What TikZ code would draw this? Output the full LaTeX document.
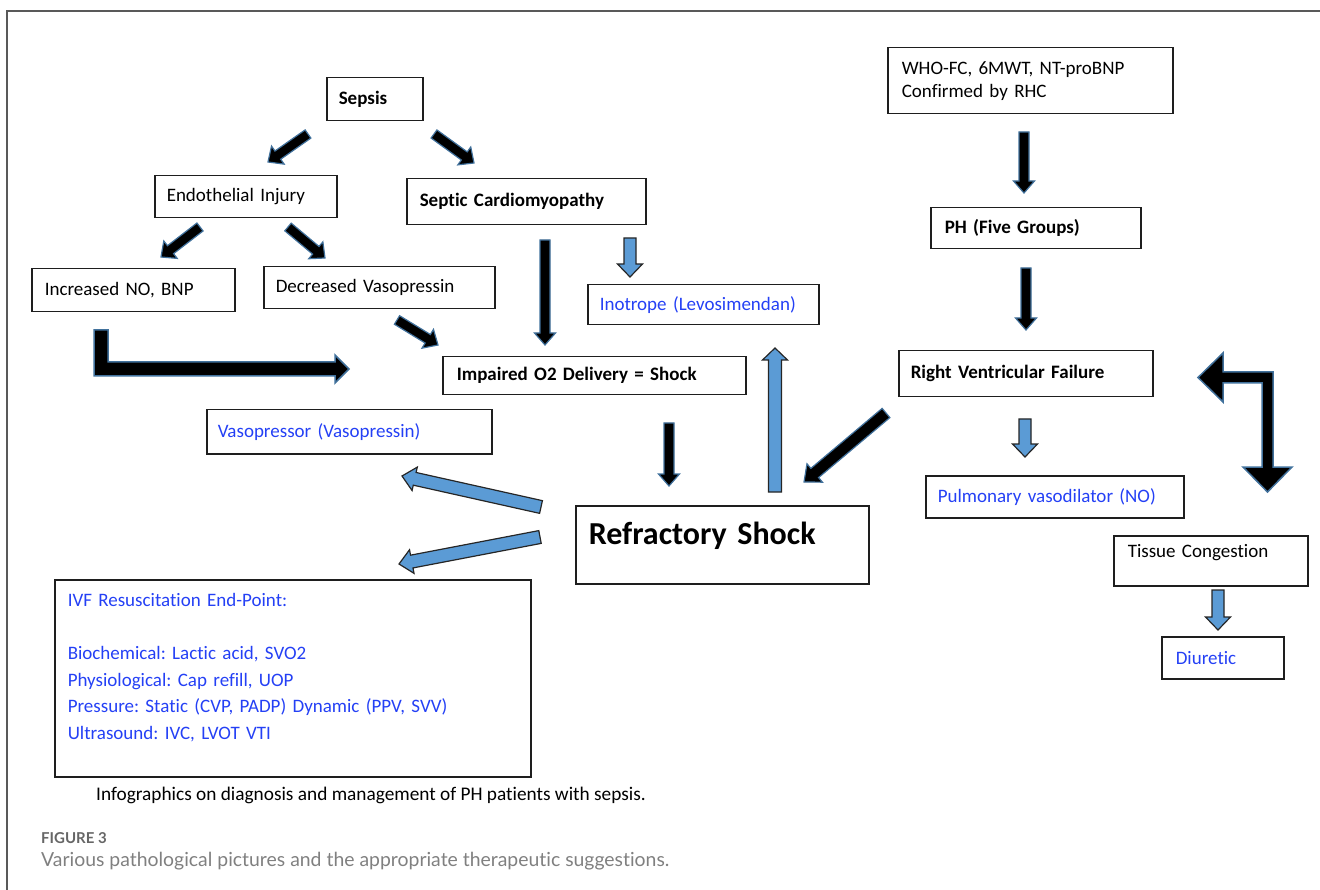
\documentclass[tikz,border=0pt]{standalone}
\usepackage{fontspec}
\setmainfont{Carlito}[Ligatures=NoCommon]
\newfontfamily\capfont{Lato}[Ligatures=NoCommon]
\usepackage{xcolor}
\usetikzlibrary{calc}
\definecolor{txtblue}{RGB}{36,64,245}
\definecolor{arrblue}{RGB}{91,155,213}
\definecolor{arredge}{RGB}{65,113,156}
\definecolor{boxline}{RGB}{30,30,30}
\frenchspacing
% block arrow: style, tail, tip, half shaft, half head, head length
\newcommand{\blockarrow}[6]{%
	\coordinate (bahead) at ($(#3)!#6!(#2)$);
	\draw[#1] ($(#2)!#4!90:(#3)$) -- ($(bahead)!#4!90:(#3)$) -- ($(bahead)!#5!90:(#3)$) -- (#3)
		-- ($(bahead)!#5!-90:(#3)$) -- ($(bahead)!#4!-90:(#3)$) -- ($(#2)!#4!-90:(#3)$) -- cycle;}

\begin{document}
\begin{tikzpicture}[x=1pt, y=-1pt,
	box/.style={draw=boxline, line width=1.5pt, anchor=north west, inner ysep=0pt, inner xsep=12pt, align=left, font=\fontsize{19}{23}\selectfont},
	hbox/.style={box, font=\fontsize{19}{23}\selectfont\bfseries},
	tbox/.style={box, text=txtblue},
	blackarr/.style={fill=black, draw=arredge, line width=1.2pt, line join=miter},
	bluearr/.style={fill=arrblue, draw=black!85, line width=1.2pt, line join=miter}]
			\useasboundingbox (0,0) rectangle (1320,890);
			\draw[black!65, line width=1.4pt] (7,890) -- (7,11) -- (1320,11);
			
			%coordinates
			\coordinate (SepEnT) at (308,134);   \coordinate (SepEnH) at (268,162);
			\coordinate (SepCaT) at (434,134);   \coordinate (SepCaH) at (474,163);
			\coordinate (EnInT)  at (200,227);   \coordinate (EnInH)  at (161,257);
			\coordinate (EnDeT)  at (288,227);   \coordinate (EnDeH)  at (325,258);
			\coordinate (DeImT)  at (397,320);   \coordinate (DeImH)  at (438,345);
			\coordinate (CaImT)  at (545,240);   \coordinate (CaImH)  at (545,345);
			\coordinate (CaInT)  at (630,238);   \coordinate (CaInH)  at (630,277);
			\coordinate (ImReT)  at (669,423);   \coordinate (ImReH)  at (669,486);
			\coordinate (RvReT)  at (886,413);   \coordinate (RvReH)  at (804,482);
			\coordinate (WhPhT)  at (1024,132);  \coordinate (WhPhH)  at (1024,193);
			\coordinate (PhRvT)  at (1026,268);  \coordinate (PhRvH)  at (1026,330);
			\coordinate (ReInT)  at (775,492);   \coordinate (ReInH)  at (775,348);
			\coordinate (ReVaT)  at (541,507);   \coordinate (ReVaH)  at (402,476);
			\coordinate (ReIvT)  at (540,537);   \coordinate (ReIvH)  at (399,564);
			\coordinate (RvPuT)  at (1025,419);  \coordinate (RvPuH)  at (1025,457);
			\coordinate (TiDiT)  at (1218,590);  \coordinate (TiDiH)  at (1218,630);
			
			%nodes
			\node[hbox, text width=72pt, minimum height=43pt] (sepsis) at (326,77) {Sepsis};
			\node[box, text width=158pt, minimum height=42pt] (endo) at (154,175) {Endothelial Injury};
			\node[hbox, text width=213pt, minimum height=46pt, inner xsep=13pt] (septic) at (406,178) {Septic Cardiomyopathy};
			\node[box, text width=177pt, minimum height=43pt, inner xsep=13pt] (incr) at (31,268) {Increased NO, BNP};
			\node[box, text width=207pt, minimum height=42pt] (decr) at (263,266) {Decreased Vasopressin};
			\node[tbox, text width=207pt, minimum height=40pt] (inotr) at (587,284) {Inotrope (Levosimendan)};
			\node[hbox, text width=275pt, minimum height=38pt, inner xsep=14pt] (impair) at (442,356) {Impaired O2 Delivery = Shock};
			\node[tbox, text width=263pt, minimum height=44pt, inner xsep=11pt] (vaso) at (206,409) {Vasopressor (Vasopressin)};
			\node[hbox, text width=267pt, minimum height=78pt, inner xsep=13pt, text depth=22pt, font=\fontsize{32}{38}\selectfont\bfseries] (refr) at (575,505) {Refractory Shock};
			\node[tbox, text width=450pt, minimum height=197pt, inner xsep=13pt, text height=14pt, text depth=157pt, font=\fontsize{19}{26.5}\selectfont] (ivf) at (54,579) {IVF Resuscitation End-Point:\\[26.5pt]
				Biochemical: Lactic acid, SVO2\\
				Physiological: Cap refill, UOP\\
				Pressure: Static (CVP, PADP) Dynamic (PPV, SVV)\\
				Ultrasound: IVC, LVOT VTI};
			\node[box, text width=257pt, minimum height=66pt, inner xsep=14pt] (who) at (887,47) {WHO-FC, 6MWT, NT-proBNP\\Confirmed by RHC};
			\node[hbox, text width=182pt, minimum height=41pt, inner xsep=14pt] (ph) at (930,207) {PH (Five Groups)};
			\node[hbox, text width=230pt, minimum height=46pt] (rvf) at (898,350) {Right Ventricular Failure};
			\node[tbox, text width=234pt, minimum height=42pt] (pulm) at (925,475) {Pulmonary vasodilator (NO)};
			\node[box, text width=166pt, minimum height=50pt, inner xsep=14pt, text depth=20pt] (tissue) at (1113,535) {Tissue Congestion};
			\node[tbox, text width=94pt, minimum height=42pt, inner xsep=14pt] (diur) at (1161,636) {Diuretic};
			
			\node[anchor=west, inner sep=0pt, text=black, font=\fontsize{19.3}{23}\selectfont] (infog) at (96,795) {Infographics on diagnosis and management of PH patients with sepsis.};
			\node[anchor=west, inner sep=0pt, text=black!60, font=\capfont\fontsize{15}{18}\selectfont\bfseries] (figno) at (41,838) {FIGURE 3};
			\node[anchor=west, inner sep=0pt, text=black!50, font=\capfont\fontsize{19.4}{23}\selectfont] (figcap) at (41,861) {Various pathological pictures and the appropriate therapeutic suggestions.};
			
			%arrows
			\blockarrow{blackarr}{SepEnT}{SepEnH}{5pt}{11pt}{12pt}
			\blockarrow{blackarr}{SepCaT}{SepCaH}{5pt}{11pt}{12pt}
			\blockarrow{blackarr}{EnInT}{EnInH}{5pt}{11pt}{12pt}
			\blockarrow{blackarr}{EnDeT}{EnDeH}{5pt}{11pt}{12pt}
			\blockarrow{blackarr}{DeImT}{DeImH}{5pt}{11pt}{12pt}
			\blockarrow{blackarr}{CaImT}{CaImH}{5pt}{10.5pt}{12pt}
			\blockarrow{blackarr}{ImReT}{ImReH}{5pt}{10.5pt}{12pt}
			\blockarrow{blackarr}{WhPhT}{WhPhH}{5pt}{10.5pt}{12pt}
			\blockarrow{blackarr}{PhRvT}{PhRvH}{5pt}{10.5pt}{12pt}
			\blockarrow{blackarr}{RvReT}{RvReH}{6pt}{12pt}{14pt}
			\blockarrow{bluearr}{CaInT}{CaInH}{6pt}{12.5pt}{13pt}
			\blockarrow{bluearr}{RvPuT}{RvPuH}{6pt}{12.5pt}{13pt}
			\blockarrow{bluearr}{TiDiT}{TiDiH}{6pt}{12.5pt}{13pt}
			\blockarrow{bluearr}{ReInT}{ReInH}{6.5pt}{12.5pt}{12pt}
			\blockarrow{bluearr}{ReVaT}{ReVaH}{6.5pt}{12pt}{13pt}
			\blockarrow{bluearr}{ReIvT}{ReIvH}{6.5pt}{12pt}{13pt}
			
			% bent arrows
			\draw[blackarr, line width=1.5pt] (94,330) -- (108,330) -- (108,362) -- (335,362) -- (335,355) -- (349,369)
				-- (335,383) -- (335,376) -- (94,376) -- cycle;
			\draw[blackarr, line width=1.5pt] (1198,377.5) -- (1223,353) -- (1223,372) -- (1273,372) -- (1273,467) -- (1292,467)
				-- (1267.5,492) -- (1243,467) -- (1262,467) -- (1262,383) -- (1223,383) -- (1223,402) -- cycle;
			\end{tikzpicture}
\end{document}
